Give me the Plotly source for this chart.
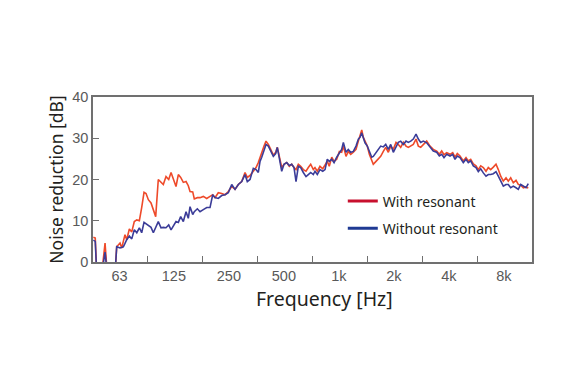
import math
import plotly.graph_objects as go

# Frequencies (Hz)
freq = [
    45.3, 46.4, 47.3, 50.3, 52.5, 54.0, 59.5, 60.8, 63.4, 64.8, 66.1, 67.5, 69.0, 71.3, 73.5, 75.9,
    78.3, 80.9, 83.3, 85.8, 88.0, 90.6, 93.7, 96.5, 99.4, 102.7, 106.3, 109.4, 113.2, 117.1, 120.6,
    124.1, 128.4, 132.2, 136.2, 140.8, 145.7, 149.9, 153.2, 158.5, 161.7, 168.0, 173.8,
    181.1, 189.1, 197.1, 203.9, 209.9, 218.8, 228.4, 238.1, 248.2, 259.1, 270.1, 281.6, 293.9,
    306.4, 315.4, 326.3, 340.2, 352.0, 362.3, 370.2, 378.2, 389.3, 399.2, 411.0, 423.6, 437.7,
    451.1, 460.3, 472.1, 486.6, 500.9, 518.2, 535.5, 551.9, 568.2, 582.7, 599.8, 618.2, 638.8,
    660.9, 680.4, 701.2, 724.6,
    740, 762, 788, 816, 840, 864, 886, 914, 941, 973, 1006, 1036, 1058, 1094, 1126, 1161, 1200,
    1241, 1278, 1305, 1334, 1361, 1390, 1431, 1468, 1513, 1543, 1597, 1644, 1694, 1751, 1805,
    1865, 1922, 1986, 2055, 2115, 2180, 2253, 2331, 2399, 2473, 2555, 2644, 2722, 2805,
    2898, 3025, 3154, 3287, 3432, 3546, 3655, 3762, 3893, 4058, 4198, 4322, 4449, 4603, 4798,
    4964, 5110, 5268, 5443, 5631, 5797, 5975, 6174, 6388, 6576, 6777, 7003, 7245, 7459, 7688,
    7944, 8219, 8460, 8720, 9011, 9323, 9597, 9891, 10221, 10575, 10886,
]

with_resonant = [
    6.0, 5.8, -3, -3, 4.6, -3, -3, 3.7, 4.6, 3.4, 5.0, 6.6, 5.4, 8.0, 7.3, 9.8,
    10.2, 10.0, 13.2, 16.9, 16.6, 15.1, 14.3, 12.7, 11.0, 20.0, 19.2, 18.8, 20.7, 20.0, 21.7,
    20.0, 18.3, 21.2, 20.5, 19.3, 19.5, 18.5, 17.1, 17.0, 15.3, 15.6, 15.6,
    15.9, 15.4, 15.9, 16.3, 15.6, 16.8, 16.6, 16.3, 17.1, 18.3, 17.6, 18.8, 19.5,
    21.7, 20.5, 21.0, 22.0, 22.9, 24.1, 25.4, 26.6, 28.1, 29.3, 28.5, 27.3, 25.9,
    26.6, 27.8, 25.6, 22.9, 23.7, 24.1, 23.2, 23.7, 22.9, 22.4, 23.7, 23.2, 22.4,
    22.0, 22.9, 23.7, 22.4,
    22.9, 22.0, 23.2, 22.6, 23.7, 24.4, 23.2, 25.4, 24.4, 24.9, 26.8, 26.6, 28.1, 25.6, 26.8, 26.1, 26.6,
    27.3, 29.3, 31.0, 32.0, 30.2, 29.3, 28.1, 26.1, 24.4, 23.7, 24.4, 24.9, 25.6, 26.8, 27.8,
    26.6, 28.1, 27.3, 29.0, 28.5, 27.8, 29.0, 28.1, 27.8, 28.1, 28.5, 29.8, 28.1, 27.8,
    28.5, 29.3, 28.1, 27.3, 26.9, 26.1, 26.9, 26.0, 26.5, 26.1, 26.5, 25.4, 26.3, 25.7, 24.5,
    25.3, 24.5, 24.9, 23.8, 23.3, 22.4, 23.3, 22.9, 22.0, 22.9, 22.4, 23.0, 23.7, 22.4, 20.8,
    19.6, 20.4, 19.6, 20.4, 19.2, 19.8, 18.8, 18.6, 18.0, 18.2, 17.9,
]

without_resonant = [
    5.3, 5.0, -3, -3, 2.4, -3, -3, 3.7, 3.4, 3.5, 3.7, 4.5, 5.4, 6.3, 5.6, 7.8,
    7.1, 8.3, 7.1, 9.6, 9.2, 8.7, 8.4, 7.1, 8.3, 9.8, 8.3, 8.4, 8.3, 9.0, 7.8,
    8.7, 9.8, 9.6, 11.0, 9.8, 12.2, 10.6, 13.4, 11.5, 12.2, 12.9, 12.2,
    12.7, 13.2, 13.2, 16.3, 15.6, 15.4, 16.1, 16.3, 16.8, 18.8, 17.6, 18.8, 19.5,
    21.2, 19.5, 20.0, 22.7, 22.4, 21.7, 24.4, 25.4, 27.3, 28.5, 28.1, 26.9, 25.6,
    26.3, 27.8, 25.2, 22.0, 23.7, 24.1, 23.4, 23.7, 22.9, 19.5, 23.2, 22.9, 21.7,
    20.7, 21.2, 21.7, 21.2,
    22.0, 21.2, 22.4, 22.0, 22.4, 24.9, 24.4, 24.9, 24.1, 25.4, 26.6, 27.3, 29.0, 26.6, 27.3, 26.6, 26.8,
    28.1, 29.8, 30.2, 31.3, 30.2, 28.9, 28.1, 26.6, 25.4, 25.6, 26.6, 27.3, 28.1, 27.9, 28.5,
    27.3, 28.5, 26.6, 28.1, 29.0, 29.3, 28.5, 29.3, 29.0, 29.3, 29.8, 31.0, 29.8, 29.0,
    29.3, 28.9, 27.8, 26.9, 26.6, 25.7, 26.1, 25.3, 26.1, 25.7, 26.1, 24.9, 25.7, 25.3, 24.1,
    24.9, 24.1, 24.5, 23.3, 22.9, 21.9, 22.6, 21.6, 20.8, 21.2, 21.2, 21.4, 21.9, 20.8, 19.6,
    18.4, 18.8, 18.8, 18.0, 18.4, 18.0, 17.6, 18.8, 18.4, 18.0, 19.0,
]

band_labels = ["63", "125", "250", "500", "1k", "2k", "4k", "8k"]
band_centers = [63, 125, 250, 500, 1000, 2000, 4000, 8000]
band_edges = [89.1, 178.2, 356.4, 712.8, 1425.6, 2851.2, 5702.4]
x_range_hz = [45.1, 11405]
y_ticks = [0, 10, 20, 30, 40]

fig = go.Figure()
fig.add_trace(go.Scatter(x=freq, y=with_resonant, mode="lines",
                         line=dict(color="#ee4a2a", width=1.6), showlegend=False))
fig.add_trace(go.Scatter(x=freq, y=without_resonant, mode="lines",
                         line=dict(color="#3b3c98", width=1.6), showlegend=False))
# legend entries
fig.add_trace(go.Scatter(x=[None], y=[None], mode="lines", name="With resonant",
                         legendgroup="a", line=dict(color="#c8102e", width=3)))
fig.add_trace(go.Scatter(x=[None], y=[None], mode="lines", name="Without resonant",
                         legendgroup="b", line=dict(color="#1f3a93", width=3)))

axis_color = "#707070"
tick_font = dict(family="Liberation Sans", size=14.5, color="#595959")

fig.update_layout(
    width=582, height=388,
    margin=dict(l=85, r=58, t=89, b=134),
    paper_bgcolor="white", plot_bgcolor="white",
    font=dict(family="Noto Sans", color="#231f20"),
    legend=dict(x=0.569, y=0.464, xanchor="left", yanchor="top",
                bgcolor="rgba(0,0,0,0)", font=dict(size=14, color="#231f20"),
                traceorder="grouped", tracegroupgap=6),
    xaxis=dict(
        type="log",
        range=[math.log10(x_range_hz[0]), math.log10(x_range_hz[1])],
        tickmode="array", tickvals=band_centers, ticktext=band_labels,
        ticks="", tickfont=tick_font,
        minor=dict(tickmode="array", tickvals=band_edges, ticks="inside",
                   ticklen=6, tickcolor=axis_color, tickwidth=1.3, showgrid=False),
        showgrid=False, zeroline=False,
        showline=True, linecolor=axis_color, linewidth=1.5, mirror=True,
    ),
    yaxis=dict(
        range=[0, 40], tickmode="array", tickvals=y_ticks,
        ticks="inside", ticklen=6, tickcolor=axis_color, tickwidth=1.3,
        tickfont=tick_font,
        showgrid=False, zeroline=False,
        showline=True, linecolor=axis_color, linewidth=1.5, mirror=True,
        title=dict(text="Noise reduction [dB]", font=dict(size=17.5, color="#231f20"), standoff=4),
    ),
    annotations=[dict(text="Frequency [Hz]", xref="paper", yref="paper",
                      x=0.528, y=-0.224, xanchor="center", yanchor="middle",
                      showarrow=False, font=dict(size=19.5, color="#231f20"))],
)

fig.write_html("out.html")
